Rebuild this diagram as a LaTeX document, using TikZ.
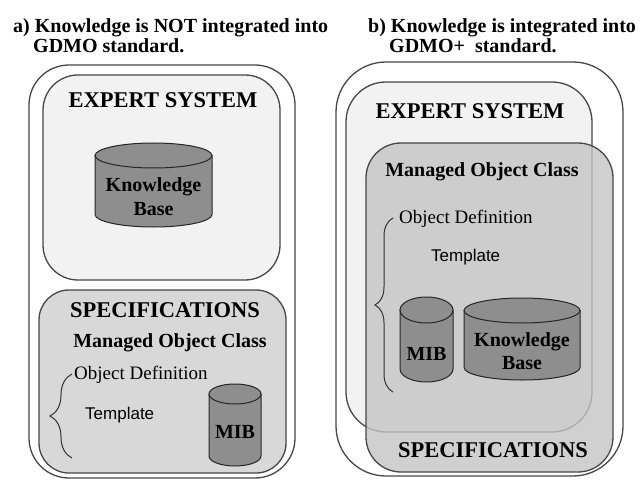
\documentclass[tikz,border=0pt]{standalone}
\usepackage{fontspec}
\setmainfont{Liberation Serif}
\newfontfamily\arialfont{Liberation Sans}
\usetikzlibrary{decorations.pathreplacing}

\definecolor{paneshade}{HTML}{F2F2F2}
\definecolor{specshade}{HTML}{D8D8D8}
\definecolor{mocshade}{HTML}{C4C4C4}
\definecolor{drumshade}{HTML}{8E8E8E}

% drum: centre x, top y, half width, height, ellipse radius
\newcommand{\dbdrum}[5]{
	\draw[drum] ({#1-#3},{-#2-#5}) -- ({#1-#3},{-#2-#4+#5}) arc (180:360:#3 and #5) -- ({#1+#3},{-#2-#5}) -- cycle;
	\draw[drum] ({#1},{-#2-#5}) ellipse (#3 and #5);
}

\tikzset{
	frame/.style={draw=black!72, line width=1.3pt},
	drum/.style={draw=black!85, line width=1pt, fill=drumshade},
	title/.style={font=\bfseries\fontsize{20}{24}\selectfont, anchor=base west, inner sep=0pt},
	head/.style={font=\bfseries\fontsize{22.5}{26}\selectfont, anchor=base, inner sep=0pt},
	sub/.style={font=\bfseries\fontsize{20}{24}\selectfont, anchor=base, inner sep=0pt},
	defn/.style={font=\fontsize{19}{22}\selectfont, anchor=base west, inner sep=0pt},
	tmpl/.style={font=\arialfont\fontsize{17}{20}\selectfont, anchor=base west, inner sep=0pt},
	curly/.style={draw=black!80, line width=1pt, decorate}
}

\begin{document}
\begin{tikzpicture}[x=1pt,y=1pt]
			%%%%% START %%%%%
			\useasboundingbox (0,0) rectangle (642,-481);
			
			\node[title] (titleA) at (13,-33) {a) Knowledge is NOT integrated into};
			\node[title] (titleAnext) at (33,-53) {GDMO standard.};
			\node[title] (titleB) at (368,-33) {b) Knowledge is integrated into};
			\node[title] (titleBnext) at (389,-53) {GDMO+\ \ standard.};
			
			% a)
			\draw[frame, rounded corners=40pt] (29,-65) rectangle (295,-478);
			\draw[frame, fill=paneshade, rounded corners=35pt] (43,-75) rectangle (280,-280);
			\node[head] (expertA) at (163,-108) {EXPERT SYSTEM};
			\dbdrum{153.5}{143}{58.5}{84}{12.5}
			\node[sub] (kbA) at (153.5,-192) {Knowledge};
			\node[sub] (kbAbase) at (153.5,-215) {Base};
			
			\draw[frame, fill=specshade, rounded corners=30pt] (39,-290) rectangle (286,-473);
			\node[head] (specA) at (165,-317) {SPECIFICATIONS};
			\node[sub] (mocA) at (170,-347) {Managed Object Class};
			\draw[curly, decoration={brace, amplitude=22pt}] (72,-458) -- (72,-374);
			\node[defn] (defA) at (74,-379) {Object Definition};
			\node[tmpl] (tplA) at (85,-419) {Template};
			\dbdrum{235}{384}{26}{82}{10}
			\node[sub] (mibA) at (235,-438) {MIB};
			
			% b)
			\draw[frame, rounded corners=50pt] (336,-62) rectangle (623,-476);
			\draw[frame, fill=paneshade, rounded corners=40pt] (346,-82) rectangle (592,-432);
			\node[head] (expertB) at (470,-119) {EXPERT SYSTEM};
			\draw[frame, fill=mocshade, fill opacity=0.8, rounded corners=35pt] (366,-143) rectangle (613,-472);
			\node[sub] (mocB) at (482,-177) {Managed Object Class};
			\draw[curly, decoration={brace, amplitude=18pt}] (393,-392) -- (393,-218);
			\node[defn] (defB) at (399,-223) {Object Definition};
			\node[tmpl] (tplB) at (431,-261) {Template};
			\dbdrum{426.5}{297}{26.5}{85}{13}
			\node[sub] (mibB) at (426.5,-360) {MIB};
			\dbdrum{522}{298}{58}{82}{12.5}
			\node[sub] (kbB) at (522,-346) {Knowledge};
			\node[sub] (kbBbase) at (522,-369) {Base};
			\node[head] (specB) at (493,-457) {SPECIFICATIONS};
			
			%%%%% END %%%%%
\end{tikzpicture}
\end{document}
